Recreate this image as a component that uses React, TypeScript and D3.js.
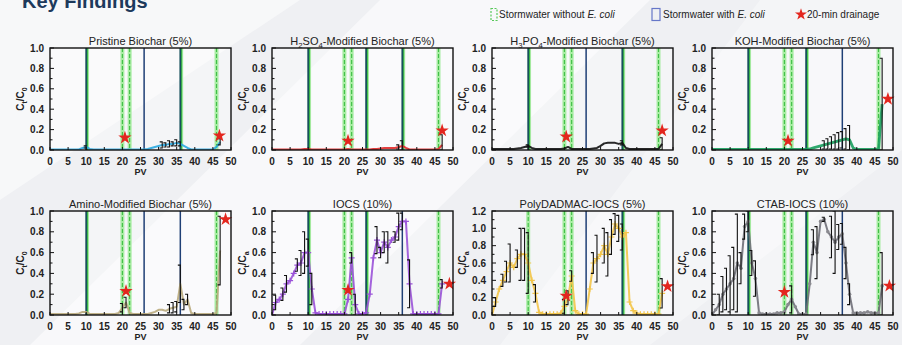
import React from "react";
import * as d3 from "d3";

const PV = [0,1,2,3,4,5,6,7,8,9,10,11,12,13,14,15,16,17,18,19,20,21,22,23,24,25,26,27,28,29,30,31,32,33,34,35,36,37,38,39,40,41,42,43,44,45,46,47];
const X_TICKS = [0,5,10,15,20,25,30,35,40,45,50];

const TITLES = [
  "Pristine Biochar (5%)",
  "H_2SO_4-Modified Biochar (5%)",
  "H_3PO_4-Modified Biochar (5%)",
  "KOH-Modified Biochar (5%)",
  "Amino-Modified Biochar (5%)",
  "IOCS (10%)",
  "PolyDADMAC-IOCS (5%)",
  "CTAB-IOCS (10%)",
];
const COLORS = ["#2aa8e0","#e02a2a","#111111","#1aa05e","#b9aa7c","#9a52d8","#f3c54a","#6f6f78"];
const Y_MAX = [1,1,1,1,1,1,1.2,1];

const PRISTINE = [
  .005,.005,.005,.005,.005,.005,.005,.005,.005,.02,
  .03,.01,.005,.005,.005,.005,.005,.005,.005,.005,
  .005,.005,.005,.005,.005,.005,.005,.01,.02,.03,
  .04,.05,.05,.06,.06,.07,.06,.04,.02,.005,
  .005,.005,.005,.005,.005,.005,.03,.08];
const ERR_PRISTINE = [
  0,0,0,0,0,0,0,0,0,0,
  .01,0,0,0,0,0,0,0,0,0,
  0,0,0,0,0,0,0,0,0,0,
  0,.03,.02,.03,.02,.03,.02,0,0,0,
  0,0,0,0,0,0,0,.03];

const H2SO4 = [
  .005,.005,.005,.005,.005,.005,.005,.005,.005,.01,
  .01,.005,.005,.005,.005,.005,.005,.005,.005,.005,
  .005,.01,.005,.005,.005,.005,.005,.005,.01,.01,
  .015,.02,.02,.02,.02,.03,.04,.02,.005,.005,
  .005,.005,.005,.005,.005,.005,.01,.05];
const ERR_H2SO4 = [
  0,0,0,0,0,0,0,0,0,0,
  0,0,0,0,0,0,0,0,0,0,
  0,0,0,0,0,0,0,0,0,0,
  0,0,0,0,0,.02,.05,0,0,0,
  0,0,0,0,0,0,0,.1];

const H3PO4 = [
  .01,.01,.01,.01,.01,.01,.01,.015,.02,.03,
  .04,.02,.01,.01,.01,.01,.01,.01,.01,.01,
  .015,.03,.01,.01,.01,.01,.01,.01,.015,.02,
  .04,.065,.07,.07,.07,.06,.07,.02,.01,.01,
  .01,.01,.01,.01,.01,.01,.01,.06];
const ERR_H3PO4 = [
  0,0,0,0,0,0,0,0,0,0,
  .01,0,0,0,0,0,0,0,0,0,
  0,0,0,0,0,0,0,0,0,0,
  0,0,0,0,0,0,.02,0,0,0,
  0,0,0,0,0,0,0,.06];

const KOH = [
  .005,.005,.005,.005,.005,.005,.005,.005,.005,.005,
  .005,.005,.005,.005,.005,.005,.005,.005,.005,.005,
  .005,.005,.005,.005,.005,.005,.005,.01,.02,.03,
  .04,.05,.06,.07,.08,.09,.10,.11,.10,.02,
  .005,.005,.005,.005,.005,.005,.01,.45];
const ERR_KOH = [
  0,0,0,0,0,0,0,0,0,0,
  0,0,0,0,0,0,0,0,0,0,
  0,0,0,0,0,0,0,0,0,0,
  0,.04,.05,.06,.07,.08,.08,.1,.14,0,
  0,0,0,0,0,0,0,.45];

const AMINO = [
  .01,.01,.01,.01,.01,.01,.01,.01,.015,.03,
  .03,.01,.01,.01,.01,.01,.01,.01,.01,.02,
  .07,.12,.02,.01,.01,.01,.01,.01,.02,.03,
  .05,.05,.04,.06,.07,.08,.30,.10,.15,.02,
  .01,.01,.01,.01,.01,.01,.02,.62];
const ERR_AMINO = [
  0,0,0,0,0,0,0,0,0,0,
  0,0,0,0,0,0,0,0,0,0,
  .04,.05,0,0,0,0,0,0,0,0,
  0,0,0,.04,.05,.05,.18,.05,.05,0,
  0,0,0,0,0,0,0,.33];

const IOCS = [
  0,.12,.15,.2,.3,.33,.4,.48,.5,.6,
  .6,.25,.02,.01,.01,.01,.01,.01,.01,.01,
  .01,.15,.55,.1,.01,.01,.02,.2,.55,.72,
  .6,.7,.65,.72,.75,.85,.9,.9,.3,.01,
  .01,.01,.01,.01,.01,.01,.01,.3];
const ERR_IOCS = [
  0,.07,0,.06,.08,0,0,.06,.12,.2,
  .13,.15,0,0,0,0,0,0,0,0,
  0,0,.05,.1,0,0,0,0,0,.13,
  .05,.1,.15,0,.05,.13,.08,0,.23,0,
  0,0,0,0,0,0,0,.04];

const POLY = [
  0,.15,.3,.4,.5,.6,.55,.65,.7,.7,
  .6,.4,.25,.03,.01,.01,.01,.01,.01,.02,
  .1,.2,.45,.05,.01,.01,.01,.3,.6,.65,
  .7,.8,.7,.9,1.05,1.0,.9,.95,.15,.05,
  .02,.01,.01,.01,.01,.01,.01,.25];
const ERR_POLY = [
  0,.05,0,.07,.12,.22,0,.1,.3,.3,
  .35,0,.1,0,0,0,0,0,0,0,
  .08,.08,.06,0,0,0,0,0,.12,.27,
  0,.2,.25,.2,.12,.15,.15,0,0,0,
  0,0,0,0,0,0,0,.17];

const CTAB = [
  0,.05,.1,.2,.25,.3,.35,.5,.45,.85,
  .9,.5,.35,.02,.01,.01,.01,.01,.02,.02,
  .03,.1,.15,.08,.01,.01,.01,.3,.7,.6,
  .9,.92,.8,.75,.7,.75,.78,.5,.2,.02,
  .02,.02,.02,.03,.02,.02,.02,.28];
const ERR_CTAB = [
  0,0,.1,.17,.2,.27,.3,.47,.15,.12,
  .1,.12,.17,0,0,0,0,0,0,0,
  0,0,.13,0,0,0,0,0,.12,.25,
  0,.02,0,.2,.3,.12,.1,.15,.1,0,
  0,0,0,0,0,0,0,.32];

const SERIES = [PRISTINE, H2SO4, H3PO4, KOH, AMINO, IOCS, POLY, CTAB];
const ERRORS = [ERR_PRISTINE, ERR_H2SO4, ERR_H3PO4, ERR_KOH, ERR_AMINO, ERR_IOCS, ERR_POLY, ERR_CTAB];

const STARS = [
  [[20.7, 0.12], [46.8, 0.14]],
  [[21, 0.09], [47, 0.19]],
  [[20.5, 0.13], [47, 0.19]],
  [[21, 0.09], [48.6, 0.5]],
  [[21, 0.23], [48.5, 0.92]],
  [[21, 0.24], [49, 0.3]],
  [[20.5, 0.22], [48.5, 0.33]],
  [[20, 0.22], [49, 0.28]],
];

const VLINES = [
  [[10,"bg"],[20,"g"],[22,"g"],[26,"b"],[36,"bg"],[46,"g"]],
  [[10,"bg"],[20,"g"],[22,"g"],[26,"bg"],[36,"bg"],[46,"g"]],
  [[10,"bg"],[20,"g"],[22,"g"],[26,"b"],[36,"bg"],[46,"g"]],
  [[10,"bg"],[20,"g"],[22,"g"],[26,"bg"],[36,"b"],[46,"g"]],
  [[10,"bg"],[20,"g"],[22,"g"],[26,"b"],[36,"b"],[46,"g"]],
  [[10,"bg"],[20,"g"],[22,"g"],[26,"bg"],[36,"b"],[46,"g"]],
  [[10,"g"],[20,"g"],[22,"g"],[26,"b"],[36,"bg"],[46,"g"]],
  [[10,"bg"],[20,"g"],[22,"g"],[26,"bg"],[36,"b"],[46,"g"]],
];

const MARKERS = ["none","none","none","none","none","plus","plus","dot"];

const LEFTS = [50, 272, 492, 712];
const TOPS = [48, 211];
const HEIGHTS = [102, 104];
const PW = 181;

const FONT = "'Liberation Sans', Arial, sans-serif";
const NAVY = "#1f3f75";
const GREEN = "#3fbf46";
const LGREEN = "#a9ecA4";

function parseRich(s: string) {
  const segs: { t: string; sub: boolean }[] = [];
  let buf = "";
  for (let i = 0; i < s.length; i++) {
    if (s[i] === "_" && i + 1 < s.length) {
      if (buf) segs.push({ t: buf, sub: false });
      buf = "";
      segs.push({ t: s[i + 1], sub: true });
      i++;
    } else buf += s[i];
  }
  if (buf) segs.push({ t: buf, sub: false });
  return segs;
}

function Rich({ text, size }: { text: string; size: number }) {
  const segs = parseRich(text);
  let prevSub = false;
  return (
    <>
      {segs.map((s, i) => {
        let dy = 0;
        if (s.sub && !prevSub) dy = size * 0.3;
        if (!s.sub && prevSub) dy = -size * 0.3;
        prevSub = s.sub;
        return (
          <tspan key={i} dy={dy} fontSize={s.sub ? size * 0.7 : size}>
            {s.t}
          </tspan>
        );
      })}
    </>
  );
}

const star = d3.symbol().type(d3.symbolStar).size(55)();

function Panel({ idx }: { idx: number }) {
  const row = idx < 4 ? 0 : 1;
  const left = LEFTS[idx % 4];
  const top = TOPS[row];
  const h = HEIGHTS[row];
  const yMax = Y_MAX[idx];
  const x = d3.scaleLinear().domain([0, 50]).range([left, left + PW]);
  const y = d3.scaleLinear().domain([0, yMax]).range([top + h, top]);
  const vals = SERIES[idx];
  const errs = ERRORS[idx];
  const color = COLORS[idx];
  const line = d3.line<number>().x((_, i) => x(PV[i])).y((v) => y(v))(vals) || "";
  const majors = d3.range(0, yMax + 0.001, 0.2);
  const minors = d3.range(0.1, yMax, 0.2);
  const clipId = `clip${idx}`;
  return (
    <g>
      <defs>
        <clipPath id={clipId}>
          <rect x={left} y={top} width={PW} height={h} />
        </clipPath>
      </defs>
      <rect x={left} y={top} width={PW} height={h} fill="#ffffff" fillOpacity={0.35} />
      <g clipPath={`url(#${clipId})`}>
        {VLINES[idx].map(([v, t], i) => {
          const xv = x(v as number);
          if (t === "g")
            return (
              <g key={i}>
                <line x1={xv} x2={xv} y1={top} y2={top + h} stroke={LGREEN} strokeWidth={4} />
                <line x1={xv} x2={xv} y1={top} y2={top + h} stroke={GREEN} strokeWidth={1.1} strokeDasharray="4,2" />
              </g>
            );
          if (t === "b")
            return <line key={i} x1={xv} x2={xv} y1={top} y2={top + h} stroke={NAVY} strokeWidth={1.5} />;
          return (
            <g key={i}>
              <line x1={xv + 1.6} x2={xv + 1.6} y1={top} y2={top + h} stroke={LGREEN} strokeWidth={2.5} />
              <line x1={xv + 1.2} x2={xv + 1.2} y1={top} y2={top + h} stroke={GREEN} strokeWidth={1.3} />
              <line x1={xv} x2={xv} y1={top} y2={top + h} stroke="#17505c" strokeWidth={1.8} />
            </g>
          );
        })}
        <path d={line} fill="none" stroke={color} strokeWidth={idx === 3 ? 2.8 : 2} strokeLinejoin="round" opacity={0.9} />
        {MARKERS[idx] === "plus" &&
          vals.map((v, i) => (
            <path key={i} d={`M${x(PV[i]) - 3},${y(v)}h6M${x(PV[i])},${y(v) - 3}v6`} stroke={color} strokeWidth={1.2} />
          ))}
        {MARKERS[idx] === "dot" &&
          vals.map((v, i) => <circle key={i} cx={x(PV[i])} cy={y(v)} r={1.8} fill="#8a8a90" />)}
        {errs.map((e, i) => {
          if (!e) return null;
          const xv = x(PV[i]);
          const y1 = y(Math.min(yMax, vals[i] + e));
          const y0 = y(Math.max(0, vals[i] - e));
          return (
            <path key={i} d={`M${xv - 2.5},${y1}H${xv}V${y0}H${xv - 2.5}`} fill="none" stroke="#111" strokeWidth={1.1} />
          );
        })}
      </g>
      {STARS[idx].map(([sx, sy], i) => (
        <path key={i} d={star} transform={`translate(${x(sx)},${y(sy)})`} fill="#e3261e" />
      ))}
      {/* ticks */}
      {majors.map((t, i) => (
        <g key={`ym${i}`}>
          <line x1={left} x2={left + 4} y1={y(t)} y2={y(t)} stroke="#111" strokeWidth={1} />
          <text x={left - 6} y={y(t)} dy="0.35em" textAnchor="end" fontSize={10} fontWeight="bold" fill="#222">
            {d3.format(".1f")(t)}
          </text>
        </g>
      ))}
      {minors.map((t, i) => (
        <line key={`yn${i}`} x1={left} x2={left + 2.5} y1={y(t)} y2={y(t)} stroke="#111" strokeWidth={1} />
      ))}
      {X_TICKS.map((t, i) => (
        <g key={`x${i}`}>
          <line x1={x(t)} x2={x(t)} y1={top + h} y2={top + h - 3} stroke="#111" strokeWidth={1} />
          <text x={x(t)} y={top + h + 15} textAnchor="middle" fontSize={10} fontWeight="bold" fill="#222">
            {t}
          </text>
        </g>
      ))}
      <rect x={left} y={top} width={PW} height={h} fill="none" stroke="#111" strokeWidth={1.4} />
      <text x={left + PW / 2} y={top - 3.5} textAnchor="middle" fontSize={11} fill="#222">
        <Rich text={TITLES[idx]} size={11} />
      </text>
      <text x={left + PW / 2} y={top + h + 25} textAnchor="middle" fontSize={9} fontWeight="bold" fill="#222">
        PV
      </text>
      <text
        transform={`translate(${left - 26},${top + h / 2}) rotate(-90)`}
        textAnchor="middle"
        fontSize={10}
        fontWeight="bold"
        fill="#222"
      >
        <Rich text={idx === 5 || idx === 6 ? "C_t/C_a" : "C_t/C_0"} size={10} />
      </text>
    </g>
  );
}

export default function App() {
  return (
    <svg width={902} height={345} style={{ position: "absolute", left: 0, top: 0, fontFamily: FONT }}>
      <rect width={902} height={345} fill="#eff0f3" />
      <polygon points="380,0 650,0 300,345 30,345" fill="#ffffff" opacity={0.55} />
      <polygon points="0,0 300,0 0,200" fill="#ffffff" opacity={0.5} />
      <polygon points="760,0 902,0 902,150 650,345 500,345" fill="#ffffff" opacity={0.35} />
      <text x={22} y={8} fontSize={20} fontWeight="bold" fill="#1d3a5c">
        Key Findings
      </text>
      {/* legend */}
      <rect x={491} y={8.5} width={6} height={12} fill="none" stroke="#58c85a" strokeWidth={1.2} strokeDasharray="2,1.5" />
      <text x={499} y={18} fontSize={10} fill="#222">
        Stormwater without <tspan fontStyle="italic">E. coli</tspan>
      </text>
      <rect x={652} y={8.5} width={8} height={12} fill="none" stroke="#6677c8" strokeWidth={1.2} />
      <text x={663} y={18} fontSize={10} fill="#222">
        Stormwater with <tspan fontStyle="italic">E. coli</tspan>
      </text>
      <path d={d3.symbol().type(d3.symbolStar).size(45)() || ""} transform="translate(801,14.5)" fill="#e3261e" />
      <text x={807} y={18} fontSize={10} fill="#222">
        20-min drainage
      </text>
      {[0, 1, 2, 3, 4, 5, 6, 7].map((i) => (
        <Panel key={i} idx={i} />
      ))}
    </svg>
  );
}
